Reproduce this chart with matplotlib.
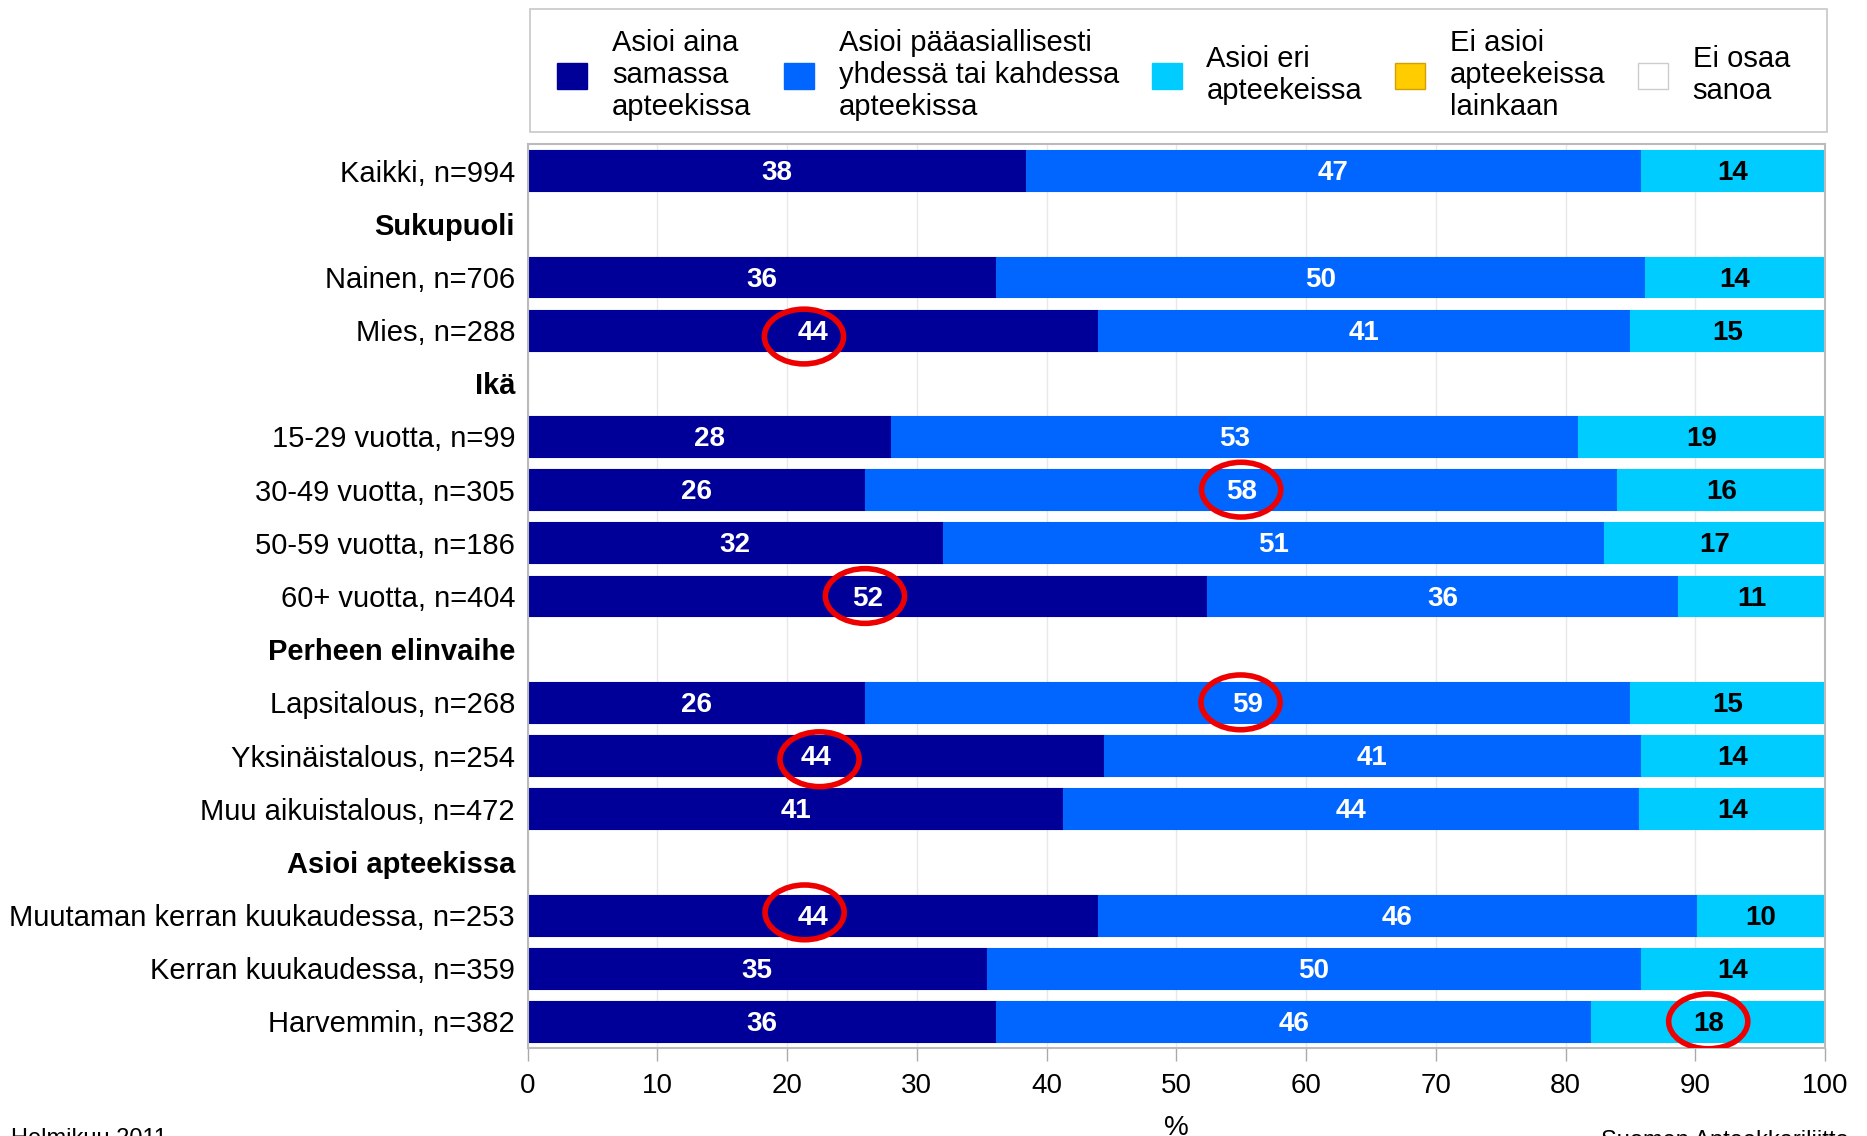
import matplotlib
matplotlib.use("Agg")
import matplotlib.pyplot as plt
from matplotlib.patches import Ellipse, Patch, Rectangle
import numpy as np

plt.rcParams['font.family'] = ['Liberation Sans', 'DejaVu Sans']

# ---------------- data ----------------
categories = [
    "Kaikki, n=994",
    "Sukupuoli",
    "Nainen, n=706",
    "Mies, n=288",
    "Ikä",
    "15-29 vuotta, n=99",
    "30-49 vuotta, n=305",
    "50-59 vuotta, n=186",
    "60+ vuotta, n=404",
    "Perheen elinvaihe",
    "Lapsitalous, n=268",
    "Yksinäistalous, n=254",
    "Muu aikuistalous, n=472",
    "Asioi apteekissa",
    "Muutaman kerran kuukaudessa, n=253",
    "Kerran kuukaudessa, n=359",
    "Harvemmin, n=382",
]
headers = ["Sukupuoli", "Ikä", "Perheen elinvaihe", "Asioi apteekissa"]

same_pharmacy = [38.4, None, 36.1, 44.0, None, 28.0, 26.0, 32.0, 52.4, None, 26.0, 44.4, 41.3, None, 44.0, 35.4, 36.1]
one_or_two    = [47.4, None, 50.0, 41.0, None, 53.0, 58.0, 51.0, 36.3, None, 59.0, 41.4, 44.4, None, 46.1, 50.4, 45.9]
different     = [14.2, None, 13.9, 15.0, None, 19.0, 16.0, 17.0, 11.3, None, 15.0, 14.2, 14.3, None,  9.9, 14.2, 18.0]
not_at_all    = [0.0, None, 0.0, 0.0, None, 0.0, 0.0, 0.0, 0.0, None, 0.0, 0.0, 0.0, None, 0.0, 0.0, 0.0]
dont_know     = [0.0, None, 0.0, 0.0, None, 0.0, 0.0, 0.0, 0.0, None, 0.0, 0.0, 0.0, None, 0.0, 0.0, 0.0]

series_names = [
    "Asioi aina\nsamassa\napteekissa",
    "Asioi pääasiallisesti\nyhdessä tai kahdessa\napteekissa",
    "Asioi eri\napteekeissa",
    "Ei asioi\napteekeissa\nlainkaan",
    "Ei osaa\nsanoa",
]
series_values = [same_pharmacy, one_or_two, different, not_at_all, dont_know]
series_colors = ["#000099", "#0066FF", "#00CCFF", "#FFCC00", "#FFFFFF"]
series_edges = ["#000099", "#0066FF", "#00CCFF", "#D4A000", "#CCCCCC"]
label_colors = ["white", "white", "black", "black", "black"]

x_ticks = [0, 10, 20, 30, 40, 50, 60, 70, 80, 90, 100]

# highlighted values: (category, series index)
highlights = [
    ("Mies, n=288", 0),
    ("30-49 vuotta, n=305", 1),
    ("60+ vuotta, n=404", 0),
    ("Lapsitalous, n=268", 1),
    ("Yksinäistalous, n=254", 0),
    ("Muutaman kerran kuukaudessa, n=253", 0),
    ("Harvemmin, n=382", 2),
]
# hand-drawn look: small offsets of each ring from its label (x in %, y in rows)
ring_offsets = [(-0.7, 0.12), (0.0, 0.0), (-0.2, 0.0), (-0.55, 0.0),
                (0.3, 0.07), (-0.65, -0.05), (0.0, 0.0)]

# ---------------- figure ----------------
fig = plt.figure(figsize=(18.67, 11.36), dpi=100)
ax = fig.add_axes([0.2826, 0.0775, 0.6949, 0.7957])

ypos = np.arange(len(categories))
bar_h = 0.77
seg_centers = {}
for i, cat in enumerate(categories):
    if cat in headers:
        continue
    left = 0.0
    for s, vals in enumerate(series_values):
        v = vals[i]
        if v is None:
            continue
        if v > 0:
            ax.barh(ypos[i], v, left=left, height=bar_h, color=series_colors[s],
                    edgecolor=series_edges[s], linewidth=0.8, zorder=2)
            ax.text(left + v / 2, ypos[i] + 0.05, f"{v:.0f}", ha="center", va="center",
                    color=label_colors[s], fontsize=20, fontweight="bold", zorder=4)
        seg_centers[(cat, s)] = left + v / 2
        left += v

for (cat, s), (dx, dy) in zip(highlights, ring_offsets):
    i = categories.index(cat)
    cx = seg_centers[(cat, s)]
    ax.add_patch(Ellipse((cx + dx, ypos[i] + dy), width=6.1, height=1.03,
                         fill=False, edgecolor="#EE0000", linewidth=4.0, zorder=5))

ax.set_xlim(0, 100)
ax.set_ylim(len(categories) - 0.5, -0.5)
ax.set_yticks(ypos)
ax.set_yticklabels(categories, fontsize=21)
for t in ax.get_yticklabels():
    if t.get_text() in headers:
        t.set_fontweight("bold")
ax.tick_params(axis="y", length=0, pad=9)
ax.set_xticks(x_ticks)
ax.set_xticklabels([str(v) for v in x_ticks], fontsize=20)
ax.tick_params(axis="x", length=9, width=1, color="#AAAAAA", pad=9, direction="out")

ax.xaxis.grid(True, color="#E8E8E8", linewidth=1)
ax.set_axisbelow(True)
for sp in ax.spines.values():
    sp.set_color("#BBBBBB")
    sp.set_linewidth(1.5)

ax.set_xlabel("%", fontsize=20)
ax.xaxis.set_label_coords(0.5, -0.074)

# legend frame (drawn separately) and legend contents
fig.patches.append(Rectangle((530 / 1867, 1 - 132 / 1136), (1827 - 530) / 1867, 123 / 1136,
                             transform=fig.transFigure, facecolor="white",
                             edgecolor="#CCCCCC", linewidth=1.3, zorder=0))
handles = [Patch(facecolor=c, edgecolor=e, linewidth=1) for c, e in zip(series_colors, series_edges)]
leg = fig.legend(handles, series_names, loc="center", ncol=5, mode="expand",
                 bbox_to_anchor=(0.2983, 0.934 - 0.05, 0.6605, 0.10),
                 fontsize=21, frameon=False,
                 handlelength=1.03, handleheight=1.03, handletextpad=0.85,
                 borderaxespad=0.0, borderpad=0.0)
for t in leg.get_texts():
    t.set_linespacing(1.2)

fig.text(0.006, 0.007, "Helmikuu 2011", fontsize=17, va="top", ha="left")
fig.text(0.8577, 0.005, "Suomen Apteekkariliitto", fontsize=17, va="top", ha="left")

fig.savefig("out.png", dpi=100)
